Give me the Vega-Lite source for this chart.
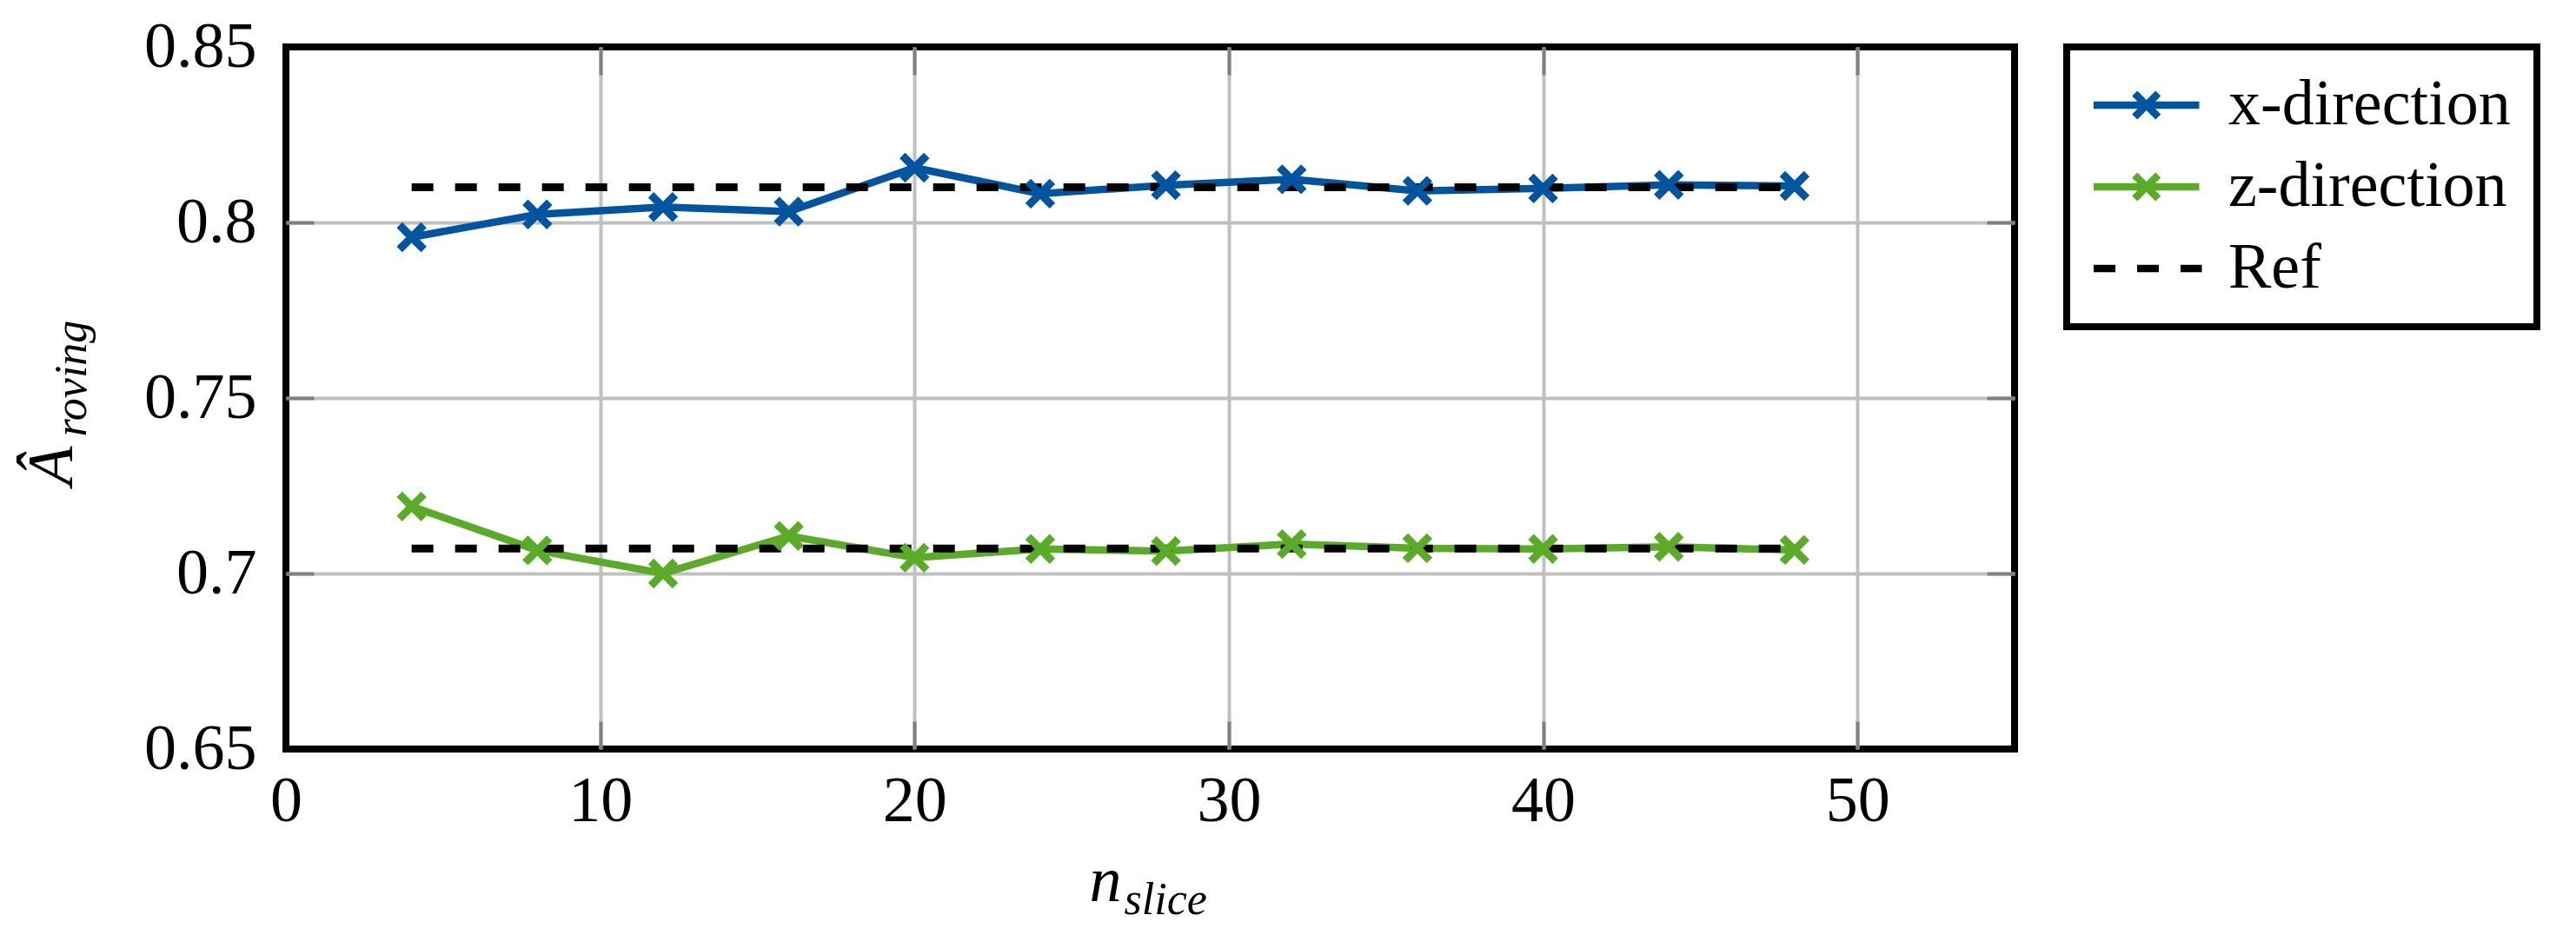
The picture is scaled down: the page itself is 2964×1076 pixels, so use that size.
{
  "$schema": "https://vega.github.io/schema/vega-lite/v6.json",
  "width": 1989,
  "height": 808,
  "autosize": "none",
  "padding": {"left": 329, "top": 54, "right": 646, "bottom": 214},
  "background": "white",
  "config": {
    "view": {"stroke": "black", "strokeWidth": 8},
    "font": "Liberation Serif"
  },
  "datasets": {
    "series": [
      {"n": 4, "A": 0.7958, "direction": "x-direction"},
      {"n": 8, "A": 0.8023, "direction": "x-direction"},
      {"n": 12, "A": 0.8044, "direction": "x-direction"},
      {"n": 16, "A": 0.8031, "direction": "x-direction"},
      {"n": 20, "A": 0.8156, "direction": "x-direction"},
      {"n": 24, "A": 0.8082, "direction": "x-direction"},
      {"n": 28, "A": 0.8106, "direction": "x-direction"},
      {"n": 32, "A": 0.8123, "direction": "x-direction"},
      {"n": 36, "A": 0.809, "direction": "x-direction"},
      {"n": 40, "A": 0.8097, "direction": "x-direction"},
      {"n": 44, "A": 0.8107, "direction": "x-direction"},
      {"n": 48, "A": 0.8104, "direction": "x-direction"},
      {"n": 4, "A": 0.7191, "direction": "z-direction"},
      {"n": 8, "A": 0.7066, "direction": "z-direction"},
      {"n": 12, "A": 0.7, "direction": "z-direction"},
      {"n": 16, "A": 0.7107, "direction": "z-direction"},
      {"n": 20, "A": 0.7045, "direction": "z-direction"},
      {"n": 24, "A": 0.707, "direction": "z-direction"},
      {"n": 28, "A": 0.7064, "direction": "z-direction"},
      {"n": 32, "A": 0.7084, "direction": "z-direction"},
      {"n": 36, "A": 0.7072, "direction": "z-direction"},
      {"n": 40, "A": 0.707, "direction": "z-direction"},
      {"n": 44, "A": 0.7076, "direction": "z-direction"},
      {"n": 48, "A": 0.7067, "direction": "z-direction"}
    ],
    "ref": [
      {"n": 4, "A": 0.81, "line": "x"},
      {"n": 48, "A": 0.81, "line": "x"},
      {"n": 4, "A": 0.7071, "line": "z"},
      {"n": 48, "A": 0.7071, "line": "z"}
    ]
  },
  "layer": [
    {
      "data": {"name": "series"},
      "mark": {"type": "line", "strokeWidth": 8.5},
      "encoding": {
        "x": {
          "field": "n", "type": "quantitative",
          "scale": {"domain": [0, 55], "nice": false, "zero": false},
          "axis": {
            "orient": "bottom", "values": [0, 10, 20, 30, 40, 50],
            "labelFont": "Liberation Serif", "labelFontSize": 74, "labelColor": "black",
            "labelPadding": 24, "labelFlush": false, "labelOverlap": false,
            "ticks": false, "grid": false, "domain": false,
            "title": "n", "titleFont": "Liberation Serif", "titleFontStyle": "italic",
            "titleFontWeight": "normal", "titleFontSize": 74, "titleColor": "black",
            "titleAlign": "right", "titleBaseline": "alphabetic", "titleX": 961, "titleY": 174
          }
        },
        "y": {
          "field": "A", "type": "quantitative",
          "scale": {"domain": [0.65, 0.85], "nice": false, "zero": false},
          "axis": {
            "orient": "left", "values": [0.65, 0.7, 0.75, 0.8, 0.85], "format": ".2~f",
            "labelFont": "Liberation Serif", "labelFontSize": 74, "labelColor": "black",
            "labelPadding": 34, "labelFlush": false, "labelOverlap": false,
            "ticks": false, "grid": false, "domain": false,
            "title": "Â", "titleFont": "Liberation Serif", "titleFontStyle": "italic",
            "titleFontWeight": "normal", "titleFontSize": 74, "titleColor": "black",
            "titleAngle": 270, "titleAlign": "right", "titleBaseline": "alphabetic",
            "titleX": -247, "titleY": 459
          }
        },
        "color": {
          "field": "direction", "type": "nominal",
          "scale": {"domain": ["x-direction", "z-direction", "Ref"], "range": ["#0054a0", "#5aab28", "#000000"]},
          "legend": {
            "orient": "right", "offset": 58, "title": null,
            "labelFont": "Liberation Serif", "labelFontSize": 74, "labelColor": "black",
            "labelLimit": 0,
            "labelOffset": 82, "symbolSize": 900, "symbolStrokeWidth": 8,
            "padding": 30, "rowPadding": 20,
            "fillColor": "white", "strokeColor": "black",
            "encode": {
              "legend": {"update": {"strokeWidth": {"value": 8}}},
              "symbols": {"update": {
                "shape": {"signal": "datum.value === 'Ref' ? 'M-2.4,0H5.9' : 'M-2.4,0H5.7M0.75,-0.9L2.55,0.9M0.75,0.9L2.55,-0.9'"},
                "strokeDash": {"signal": "datum.value === 'Ref' ? [25,25] : [1,0]"},
                "strokeWidth": {"value": 8.5},
                "fill": {"value": "transparent"}
              }}
            }
          }
        }
      }
    },
    {
      "data": {"name": "ref"},
      "mark": {"type": "line", "strokeWidth": 9, "strokeDash": [25, 25], "color": "black"},
      "encoding": {
        "x": {
          "field": "n", "type": "quantitative",
          "scale": {"domain": [0, 55], "nice": false, "zero": false},
          "axis": {
            "orient": "bottom", "values": [10, 20, 30, 40, 50], "zindex": 0,
            "labels": false, "domain": false,
            "ticks": true, "tickSize": -32, "tickColor": "#808080", "tickWidth": 4,
            "grid": true, "gridColor": "#c0c0c0", "gridWidth": 4,
            "title": "slice", "titleFont": "Liberation Serif", "titleFontStyle": "italic",
            "titleFontWeight": "normal", "titleFontSize": 52, "titleColor": "black",
            "titleAlign": "left", "titleBaseline": "alphabetic", "titleX": 964, "titleY": 189
          }
        },
        "y": {
          "field": "A", "type": "quantitative",
          "scale": {"domain": [0.65, 0.85], "nice": false, "zero": false},
          "axis": {
            "orient": "left", "values": [0.7, 0.75, 0.8], "zindex": 0,
            "labels": false, "domain": false,
            "ticks": true, "tickSize": -32, "tickColor": "#808080", "tickWidth": 4,
            "grid": true, "gridColor": "#c0c0c0", "gridWidth": 4,
            "title": "roving", "titleFont": "Liberation Serif", "titleFontStyle": "italic",
            "titleFontWeight": "normal", "titleFontSize": 52, "titleColor": "black",
            "titleAngle": 270, "titleAlign": "left", "titleBaseline": "alphabetic",
            "titleX": -231, "titleY": 448
          }
        },
        "detail": {"field": "line", "type": "nominal"}
      }
    },
    {
      "data": {"name": "series"},
      "mark": {"type": "point", "shape": "M-1,-1L1,1M-1,1L1,-1", "size": 784, "strokeWidth": 9, "filled": false, "opacity": 1},
      "encoding": {
        "x": {
          "field": "n", "type": "quantitative",
          "scale": {"domain": [0, 55], "nice": false, "zero": false},
          "axis": {
            "orient": "top", "values": [10, 20, 30, 40, 50], "zindex": 0,
            "labels": false, "domain": false, "grid": false,
            "ticks": true, "tickSize": -32, "tickColor": "#808080", "tickWidth": 4,
            "title": null
          }
        },
        "y": {
          "field": "A", "type": "quantitative",
          "scale": {"domain": [0.65, 0.85], "nice": false, "zero": false},
          "axis": {
            "orient": "right", "values": [0.7, 0.75, 0.8], "zindex": 0,
            "labels": false, "domain": false, "grid": false,
            "ticks": true, "tickSize": -32, "tickColor": "#808080", "tickWidth": 4,
            "title": null
          }
        },
        "color": {"field": "direction", "type": "nominal", "legend": null}
      }
    }
  ],
  "resolve": {"axis": {"x": "independent", "y": "independent"}}
}
